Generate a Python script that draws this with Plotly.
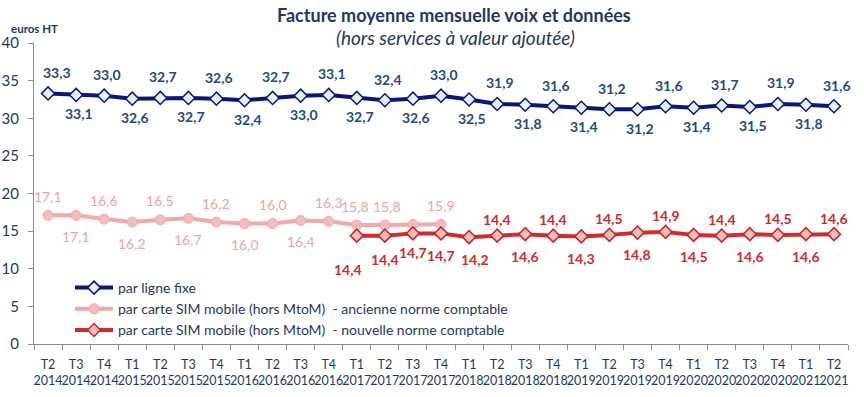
import plotly.graph_objects as go

quarters = ["T2", "T3", "T4", "T1", "T2", "T3", "T4", "T1", "T2", "T3", "T4",
            "T1", "T2", "T3", "T4", "T1", "T2", "T3", "T4", "T1", "T2", "T3", "T4",
            "T1", "T2", "T3", "T4", "T1", "T2"]
years = ["2014", "2014", "2014", "2015", "2015", "2015", "2015", "2016", "2016", "2016", "2016",
         "2017", "2017", "2017", "2017", "2018", "2018", "2018", "2018", "2019", "2019", "2019", "2019",
         "2020", "2020", "2020", "2020", "2021", "2021"]
categories = [f"{q}<br>{y}" for q, y in zip(quarters, years)]

fixe = [33.3, 33.1, 33.0, 32.6, 32.7, 32.7, 32.6, 32.4, 32.7, 33.0, 33.1, 32.7, 32.4, 32.6,
        33.0, 32.5, 31.9, 31.8, 31.6, 31.4, 31.2, 31.2, 31.6, 31.4, 31.7, 31.5, 31.9, 31.8, 31.6]
mobile_ancienne = [17.1, 17.1, 16.6, 16.2, 16.5, 16.7, 16.2, 16.0, 16.0, 16.4, 16.3, 15.8, 15.8, 15.9, 15.9]
mobile_nouvelle = [14.4, 14.4, 14.7, 14.7, 14.2, 14.4, 14.6, 14.4, 14.3, 14.5, 14.8, 14.9,
                   14.5, 14.4, 14.6, 14.5, 14.6, 14.6]

title_text = "Facture moyenne mensuelle voix et données"
subtitle_text = "(hors services à valeur ajoutée)"
unit_text = "euros HT"

cat_anc = categories[:len(mobile_ancienne)]
cat_nouv = categories[len(categories) - len(mobile_nouvelle):]

NAVY = "#0a1580"
NAVY_TXT = "#1f4a86"
PINK = "#f2a9a9"
PINK_TXT = "#f0a3a3"
RED = "#d22b2d"
RED_TXT = "#cf2a2e"
TEXT = "#1f3864"
FONT = "Lato, 'Open Sans', sans-serif"

W, H = 864, 397
ml, mr, mt, mb = 34, 16, 43, 53
pw, ph = W - ml - mr, H - mt - mb


def px(xp):
    return (xp - ml) / pw


def py(yp):
    return (H - mb - yp) / ph


def fmt(v):
    return f"{v:.1f}".replace(".", ",")


fig = go.Figure()
fig.add_trace(go.Scatter(
    x=categories, y=fixe, mode="lines+markers", name="par ligne fixe",
    line=dict(color=NAVY, width=4),
    marker=dict(symbol="diamond", size=10, color="#e3f2ff", line=dict(color=NAVY, width=1.5)),
))
fig.add_trace(go.Scatter(
    x=cat_anc, y=mobile_ancienne, mode="lines+markers",
    name="par carte SIM mobile (hors MtoM)\u00a0\u00a0- ancienne norme comptable",
    line=dict(color=PINK, width=4),
    marker=dict(symbol="circle", size=10, color="#f5bcbc", line=dict(color=PINK, width=1)),
))
fig.add_trace(go.Scatter(
    x=cat_nouv, y=mobile_nouvelle, mode="lines+markers",
    name="par carte SIM mobile (hors MtoM)\u00a0\u00a0- nouvelle norme comptable",
    line=dict(color=RED, width=4),
    marker=dict(symbol="diamond", size=10, color="#f8bcb6", line=dict(color="#c8262b", width=1.5)),
))

annotations = []
for i, (c, v) in enumerate(zip(categories, fixe)):
    annotations.append(dict(x=c, y=v, xref="x", yref="y", text=fmt(v), showarrow=False,
                            yshift=21 if i % 2 == 0 else -19, xshift=9 if i == 0 else 3,
                            font=dict(family=FONT, size=14, color=NAVY_TXT, weight="bold")))
anc_pos = ["a", "b", "a", "b", "a", "b", "a", "b", "a", "b", "a", "a", "a", None, "a"]
anc_xshift = [0] * 11 + [-2, 2, 0, 0]
for c, v, p, xs in zip(cat_anc, mobile_ancienne, anc_pos, anc_xshift):
    if p is None:
        continue
    annotations.append(dict(x=c, y=v, xref="x", yref="y", text=fmt(v), showarrow=False,
                            yshift=19 if p == "a" else -21, xshift=xs,
                            font=dict(family=FONT, size=14, color=PINK_TXT)))
nouv_shift = [-34, -24, -19, -22, -22, 16, -22, 16, -22, 16, -22, 16, -22, 16, -22, 16, -22, 16]
nouv_xshift = [-9, 0, 0, 0, 6] + [0] * 13
for c, v, s, xs in zip(cat_nouv, mobile_nouvelle, nouv_shift, nouv_xshift):
    annotations.append(dict(x=c, y=v, xref="x", yref="y", text=fmt(v), showarrow=False,
                            yshift=s, xshift=xs,
                            font=dict(family=FONT, size=14, color=RED_TXT, weight="bold")))

annotations.append(dict(x=px(454), y=py(15), xref="paper", yref="paper", showarrow=False,
                        xanchor="center", yanchor="middle",
                        text=f"<b>{title_text}</b>",
                        font=dict(family=FONT, size=18, color=TEXT)))
annotations.append(dict(x=px(455), y=py(37), xref="paper", yref="paper", showarrow=False,
                        xanchor="center", yanchor="middle",
                        text=f"<i>{subtitle_text}</i>",
                        font=dict(family=FONT, size=19, color=TEXT)))
annotations.append(dict(x=px(34), y=py(29), xref="paper", yref="paper", showarrow=False,
                        xanchor="center", yanchor="middle",
                        text=f"<b>{unit_text}</b>",
                        font=dict(family=FONT, size=11.5, color=TEXT)))

fig.update_layout(
    width=W, height=H,
    margin=dict(l=ml, r=mr, t=mt, b=mb, autoexpand=False),
    paper_bgcolor="white", plot_bgcolor="white",
    font=dict(family=FONT, color=TEXT),
    annotations=annotations,
    showlegend=True,
    legend=dict(x=px(70), y=py(272), xanchor="left", yanchor="top",
                bgcolor="rgba(0,0,0,0)", font=dict(family=FONT, size=14, color=TEXT),
                itemwidth=38, tracegroupgap=0),
    xaxis=dict(type="category", range=[-0.5, len(categories) - 0.5],
               showline=True, linecolor="#8c8c8c", linewidth=1,
               ticks="outside", tickson="boundaries", ticklen=5, tickcolor="#8c8c8c",
               showgrid=False, tickfont=dict(family=FONT, size=12.5, color=TEXT), tickangle=0,
               ticklabelstandoff=9),
    yaxis=dict(range=[0, 40], dtick=5, showline=True, linecolor="#8c8c8c", linewidth=1,
               ticks="outside", ticklen=5, tickcolor="#8c8c8c", showgrid=False, zeroline=False,
               tickfont=dict(family=FONT, size=15, color=TEXT), ticklabelstandoff=6),
)

fig.write_html("out.html", config={"displayModeBar": False},
               post_script="document.body.style.margin='0';")
